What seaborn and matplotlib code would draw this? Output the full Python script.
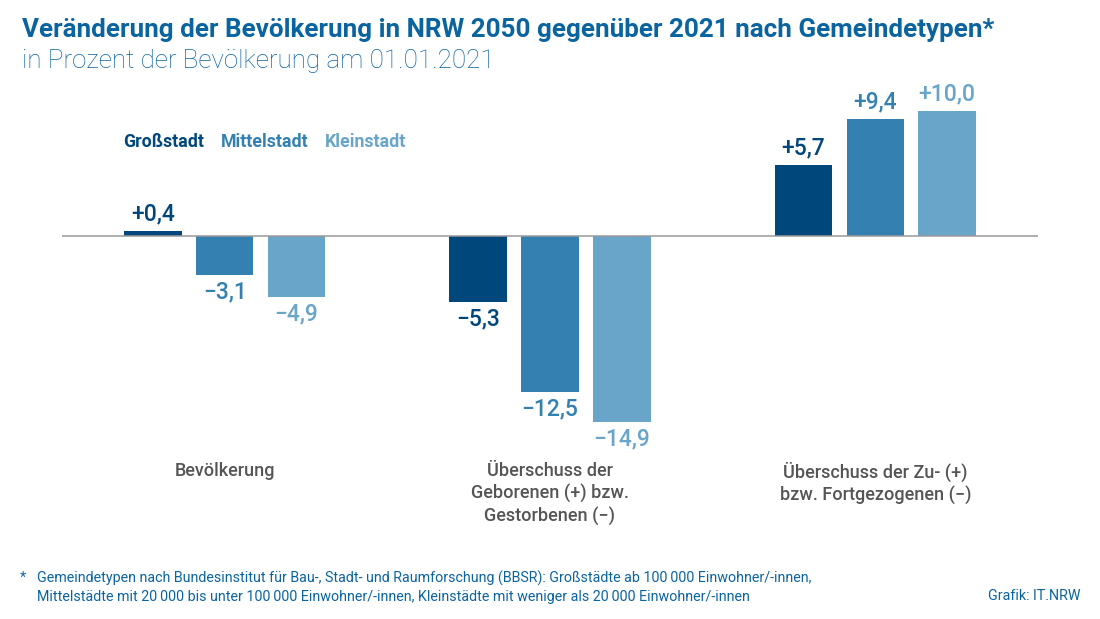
import pandas as pd
import seaborn as sns
import matplotlib.pyplot as plt
import matplotlib.transforms as mtransforms

# Data
kategorien = ["Bevölkerung",
              "Überschuss der\nGeborenen (+) bzw.\nGestorbenen (\u2212)",
              "Überschuss der Zu- (+)\nbzw. Fortgezogenen (\u2212)"]
gemeindetypen = ["Großstadt", "Mittelstadt", "Kleinstadt"]
grossstadt = [0.4, -5.3, 5.7]
mittelstadt = [-3.1, -12.5, 9.4]
kleinstadt = [-4.9, -14.9, 10.0]

farben = ["#00477c", "#3481b1", "#68a5c8"]
titel_farbe = "#0a64a0"

df = pd.DataFrame({
    "kategorie": kategorien * 3,
    "typ": [t for t in gemeindetypen for _ in kategorien],
    "wert": grossstadt + mittelstadt + kleinstadt,
})

sns.set_theme(style="white")
plt.rcParams['font.family'] = ['Roboto', 'DejaVu Sans']

fig = plt.figure(figsize=(11, 6.19), dpi=100)
ax = fig.add_axes([62 / 1100, 1 - 448.5 / 619, (1038 - 62) / 1100, (448.5 - 86) / 619])

sns.barplot(data=df, x="kategorie", y="wert", hue="typ", hue_order=gemeindetypen,
            order=kategorien, palette=farben, width=0.663, gap=0.2,
            saturation=1, legend=False, linewidth=0, ax=ax)

ax.set_xlim(-0.5, 2.5)
ax.set_ylim(-17, 12)
ax.axhline(0, color="#9a9a9a", lw=1.1, zorder=3)
for s in ax.spines.values():
    s.set_visible(False)
ax.set_xticks([])
ax.set_yticks([])
ax.set_xlabel("")
ax.set_ylabel("")

# value labels
for container, farbe in zip(ax.containers, farben):
    for bar in container:
        v = bar.get_height()
        x = bar.get_x() + bar.get_width() / 2
        txt = ("+" if v > 0 else "\u2212") + f"{abs(v):.1f}".replace(".", ",")
        off = 4 if v > 0 else -4
        ax.annotate(txt, (x, v), xytext=(0, off), textcoords="offset points",
                    ha="center", va="bottom" if v > 0 else "top",
                    fontsize=16.5, fontweight="medium", color=farbe)

# category labels below
trans = mtransforms.blended_transform_factory(ax.transData, fig.transFigure)
for i, k in enumerate(kategorien):
    ax.text(i, 1 - 462 / 619, k, transform=trans, ha="center", va="top",
            fontsize=13, fontweight="medium", color="#555555", linespacing=1.27)

# legend as coloured words
for name, farbe, xp in zip(gemeindetypen, farben, [123, 221, 325]):
    fig.text(xp / 1100, 1 - 142 / 619, name, ha="left", va="center",
             fontsize=12.8, fontweight="bold", color=farbe)

fig.text(22 / 1100, 1 - 30 / 619,
         "Veränderung der Bevölkerung in NRW 2050 gegenüber 2021 nach Gemeindetypen*",
         ha="left", va="center", fontsize=18.7, fontweight="bold", color=titel_farbe)
fig.text(22 / 1100, 1 - 61 / 619, "in Prozent der Bevölkerung am 01.01.2021",
         ha="left", va="center", fontsize=18.7, fontweight="light", color=titel_farbe)

fig.text(20 / 1100, 1 - 578 / 619, "*", ha="left", va="center", fontsize=10.3, color=titel_farbe)
fig.text(37 / 1100, 1 - 587 / 619,
         "Gemeindetypen nach Bundesinstitut für Bau-, Stadt- und Raumforschung (BBSR): "
         "Großstädte ab 100\u2009000 Einwohner/-innen,\n"
         "Mittelstädte mit 20\u2009000 bis unter 100\u2009000 Einwohner/-innen, "
         "Kleinstädte mit weniger als 20\u2009000 Einwohner/-innen",
         ha="left", va="center", fontsize=10.3, color=titel_farbe, linespacing=1.35)
fig.text(1080 / 1100, 1 - 596 / 619, "Grafik: IT.NRW", ha="right", va="center",
         fontsize=10.3, color=titel_farbe)

fig.savefig("out.png", dpi=100)
